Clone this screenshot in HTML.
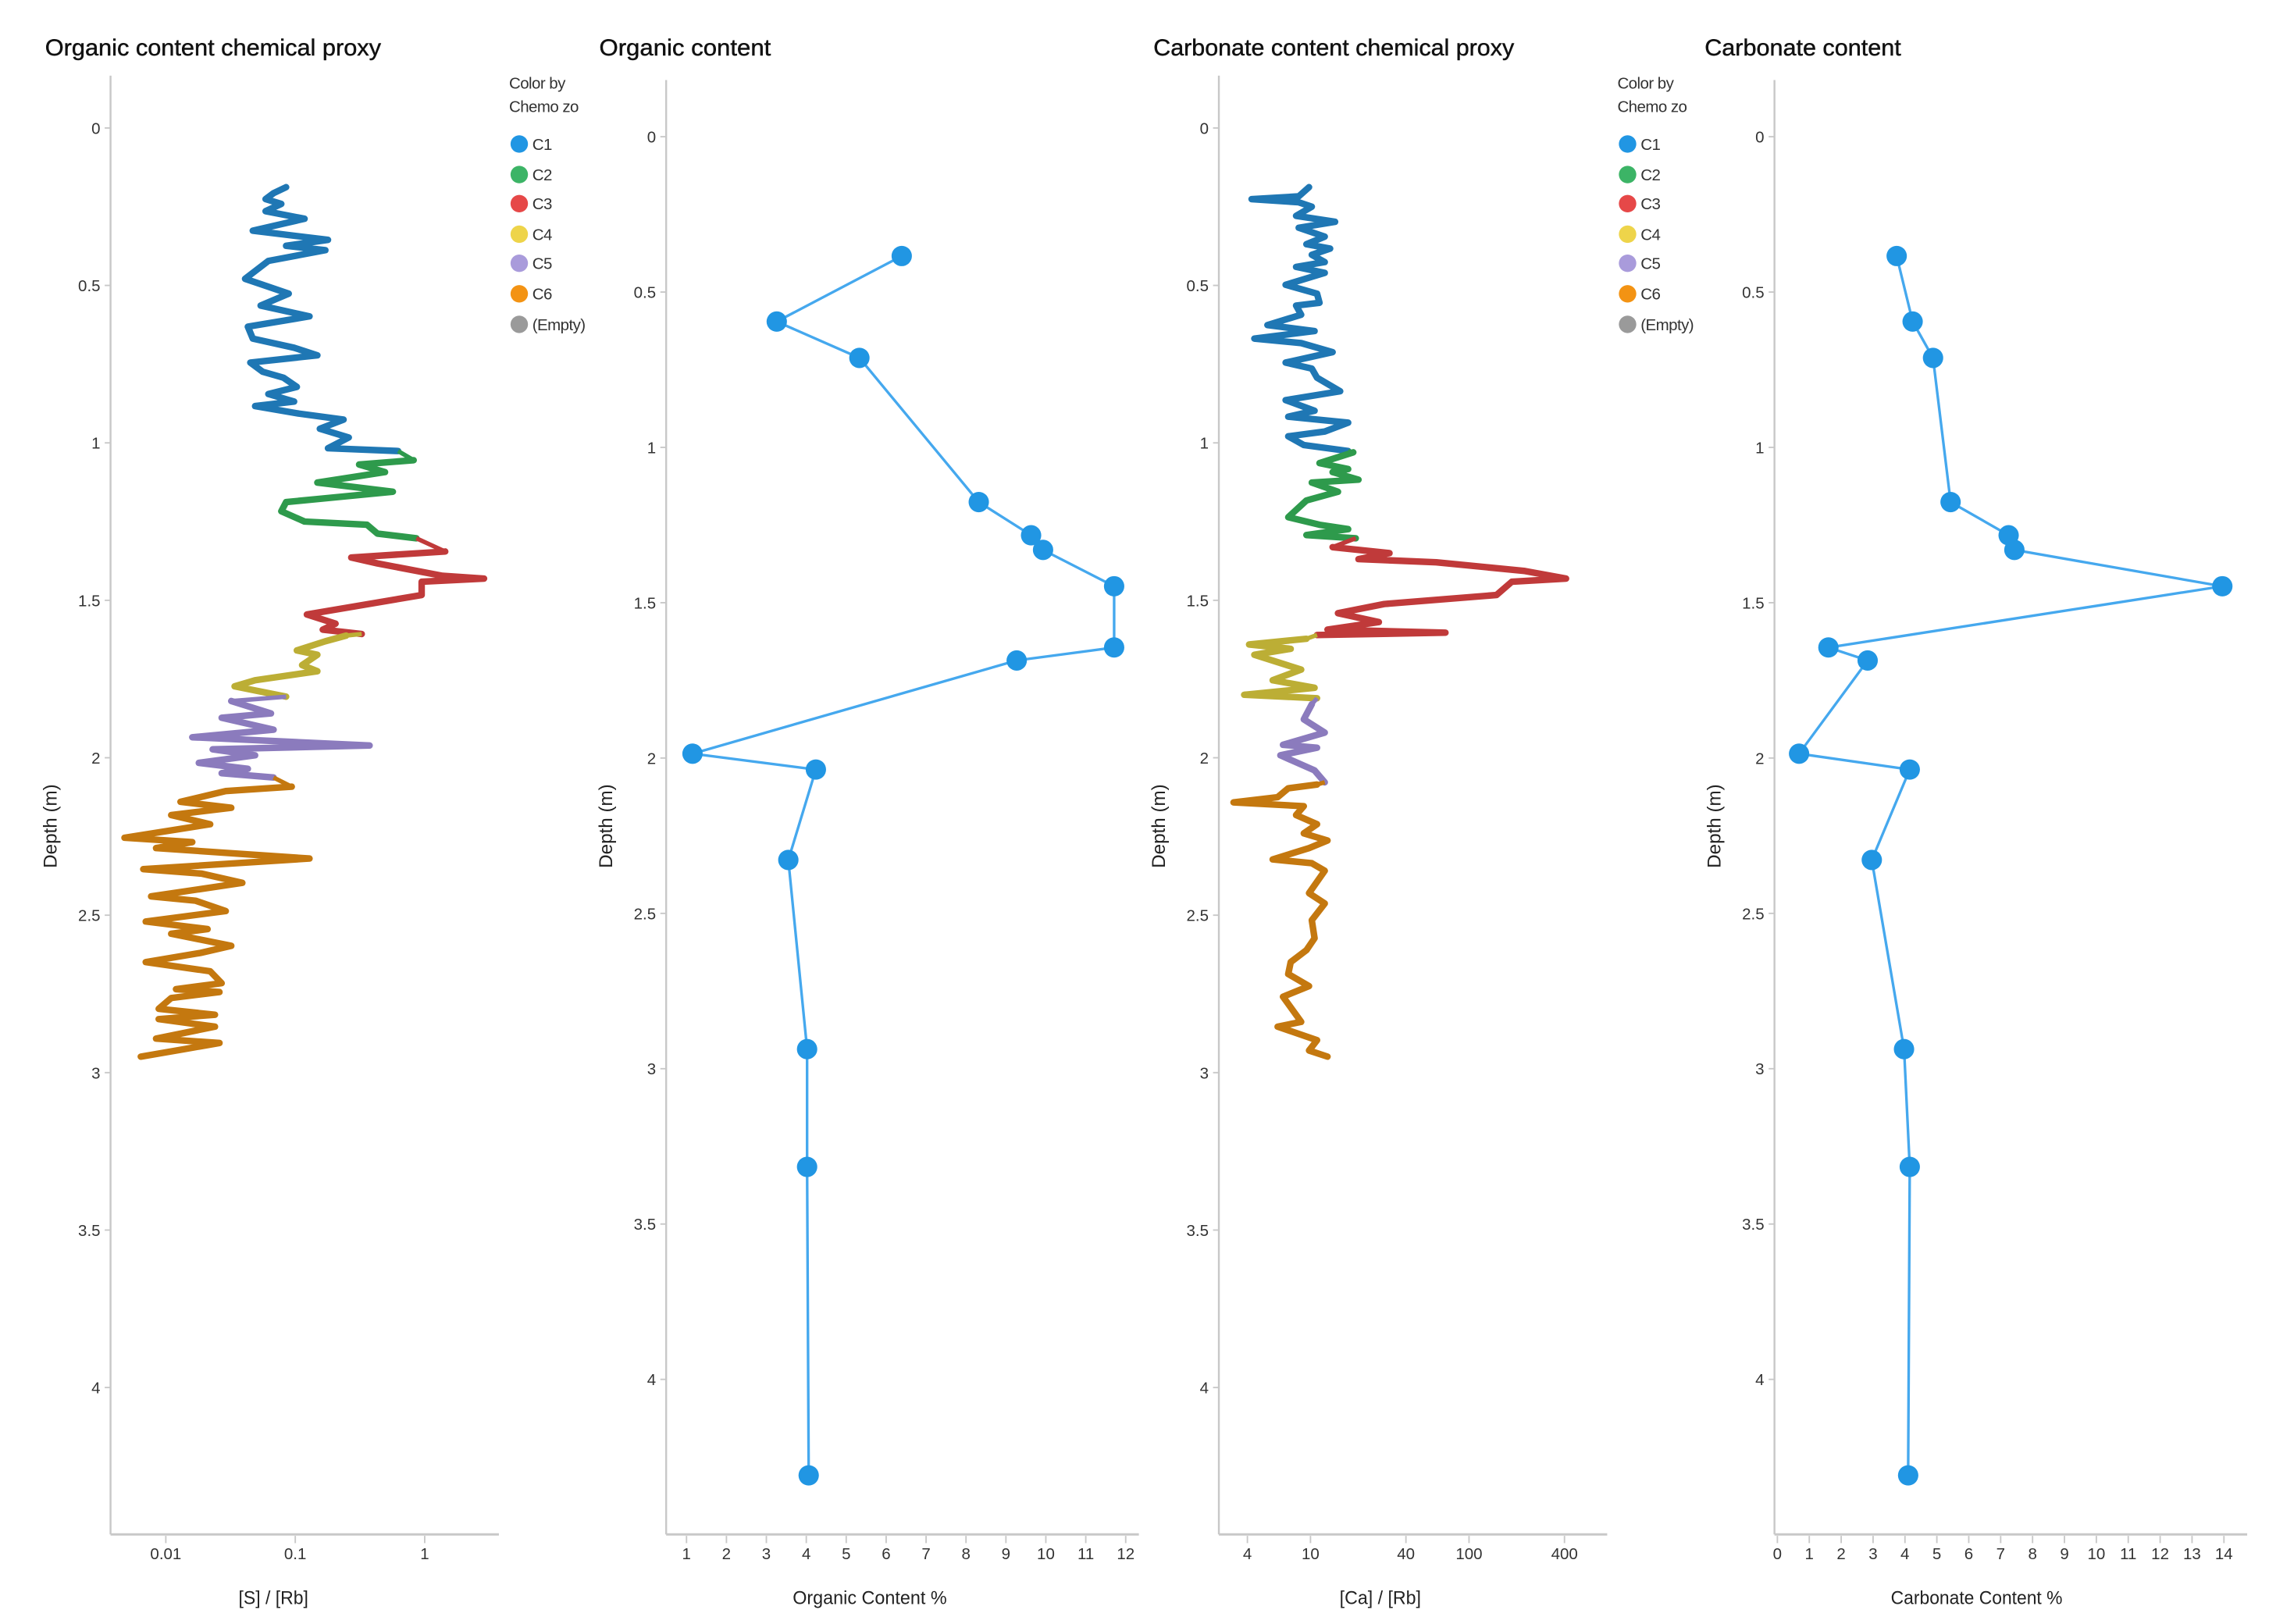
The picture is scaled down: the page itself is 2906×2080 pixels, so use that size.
<!DOCTYPE html>
<html><head><meta charset="utf-8">
<style>
html,body{margin:0;padding:0;background:#fff;}
svg{display:block;font-family:"Liberation Sans",sans-serif;}
</style></head>
<body>
<svg id="chart" width="2906" height="2080" viewBox="0 0 1560 1116.6" preserveAspectRatio="none" xmlns="http://www.w3.org/2000/svg"></svg>
<script>
// ---------- DATA ----------
const zoneNames = ["C1","C2","C3","C4","C5","C6","(Empty)"];
const zoneLineColors = ["#1f77b4","#2e9a4c","#c03a3a","#bcae35","#8b7bbd","#c4780f","#888888"];
const zoneLegendColors = ["#2196e3","#3cb466","#e64848","#eed44a","#a99bdb","#f39313","#9a9a9a"];

// Organic proxy [S]/[Rb]
const sDepth = [0.188,0.207,0.226,0.241,0.264,0.288,0.326,0.355,0.374,0.388,0.422,0.479,0.498,0.526,0.564,0.598,0.631,0.669,0.698,0.722,0.745,0.774,0.793,0.822,0.845,0.869,0.883,0.907,0.926,0.955,0.983,1.017,1.026,
 1.055,1.069,1.093,1.126,1.155,1.188,1.217,1.250,1.260,1.288,1.303,
 1.345,1.364,1.383,1.422,1.431,1.441,1.483,1.545,1.574,1.593,1.607,
 1.612,1.630,1.659,1.673,1.706,1.725,1.754,1.773,1.806,
 1.820,1.859,1.873,1.911,1.935,1.961,1.973,1.992,2.016,2.035,2.049,2.063,
 2.092,2.106,2.140,2.159,2.182,2.211,2.254,2.268,2.287,2.320,2.354,2.368,2.397,2.440,2.454,2.487,2.520,2.544,2.559,2.597,2.620,2.649,2.678,2.716,2.735,2.744,2.763,2.797,2.816,2.830,2.854,2.892,2.906,2.925,2.949];
const sValue = [0.085,0.068,0.059,0.078,0.059,0.118,0.047,0.179,0.085,0.171,0.062,0.041,0.056,0.089,0.054,0.129,0.043,0.047,0.098,0.148,0.045,0.056,0.081,0.103,0.062,0.098,0.049,0.107,0.236,0.155,0.259,0.179,0.623,
 0.822,0.311,0.494,0.148,0.568,0.085,0.078,0.118,0.358,0.431,0.862,
 1.44,0.271,0.431,1.37,2.87,0.946,0.946,0.123,0.205,0.163,0.326,
 0.247,0.171,0.103,0.148,0.113,0.148,0.049,0.034,0.085,
 0.032,0.065,0.027,0.068,0.016,0.375,0.023,0.049,0.018,0.043,0.027,0.068,
 0.094,0.029,0.013,0.032,0.011,0.022,0.0048,0.016,0.0084,0.129,0.0067,0.019,0.039,0.0077,0.017,0.029,0.0070,0.021,0.011,0.032,0.0185,0.0070,0.022,0.027,0.012,0.026,0.011,0.0088,0.024,0.0088,0.024,0.0084,0.026,0.014,0.0064];
const sZone = [0,0,0,0,0,0,0,0,0,0,0,0,0,0,0,0,0,0,0,0,0,0,0,0,0,0,0,0,0,0,0,0,0,
 1,1,1,1,1,1,1,1,1,1,1,
 2,2,2,2,2,2,2,2,2,2,2,
 3,3,3,3,3,3,3,3,3,
 4,4,4,4,4,4,4,4,4,4,4,4,
 5,5,5,5,5,5,5,5,5,5,5,5,5,5,5,5,5,5,5,5,5,5,5,5,5,5,5,5,5,5,5,5,5,5,5];

// Carbonate proxy [Ca]/[Rb]
const caDepth = [0.188,0.217,0.226,0.236,0.250,0.279,0.298,0.317,0.345,0.369,0.383,0.403,0.426,0.441,0.460,0.498,0.526,0.555,0.564,0.593,0.626,0.645,0.669,0.683,0.712,0.745,0.764,0.793,0.836,0.864,0.898,0.917,0.936,0.964,0.979,1.007,1.026,
 1.030,1.064,1.083,1.093,1.117,1.126,1.155,1.183,1.236,1.260,1.274,1.293,1.303,
 1.331,1.350,1.369,1.379,1.407,1.431,1.441,1.483,1.512,1.541,1.569,1.593,1.603,1.610,
 1.622,1.640,1.654,1.673,1.720,1.754,1.778,1.800,1.811,
 1.830,1.878,1.920,1.959,1.968,1.992,2.040,2.078,
 2.085,2.097,2.125,2.142,2.154,2.182,2.211,2.240,2.263,2.287,2.323,2.335,2.359,2.430,2.463,2.516,2.573,2.611,2.649,2.687,2.725,2.759,2.839,2.854,2.897,2.930,2.949];
const caValue = [9.79,8.42,4.25,8.42,10.2,8.11,14.3,8.42,12.3,9.43,13.3,10.2,12.3,8.11,12.3,6.97,11.0,11.4,8.11,8.74,5.35,10.6,4.42,8.74,13.8,6.97,10.2,11.0,15.4,6.97,10.6,7.24,17.3,12.3,7.24,9.08,17.3,
 18.6,11.4,17.3,13.8,20.1,10.2,14.9,9.43,7.24,11.4,17.3,9.43,19.3,
 13.8,31.5,20.1,62.2,225,409,186,149,29.2,14.9,27.0,12.8,71.0,11.0,
 9.43,4.10,7.5,4.42,8.74,5.77,10.6,3.82,11.0,
 10.2,9.08,12.3,6.71,11.0,6.46,10.6,12.3,
 11.0,7.24,6.2,3.27,9.08,8.11,11.0,9.08,12.8,9.79,5.77,10.2,12.3,9.79,12.3,10.2,10.6,9.43,7.5,7.24,9.79,6.71,8.74,6.2,11.0,9.79,12.8];
const caZone = [0,0,0,0,0,0,0,0,0,0,0,0,0,0,0,0,0,0,0,0,0,0,0,0,0,0,0,0,0,0,0,0,0,0,0,0,0,
 1,1,1,1,1,1,1,1,1,1,1,1,1,
 2,2,2,2,2,2,2,2,2,2,2,2,2,2,
 3,3,3,3,3,3,3,3,3,
 4,4,4,4,4,4,4,4,
 5,5,5,5,5,5,5,5,5,5,5,5,5,5,5,5,5,5,5,5,5,5,5,5,5,5,5];

// Lab samples
const sampleDepth = [0.384,0.595,0.712,1.176,1.283,1.330,1.447,1.644,1.686,1.986,2.037,2.328,2.937,3.316,4.309];
const organicPct = [6.39,3.26,5.33,8.32,9.63,9.93,11.71,11.71,9.27,1.15,4.24,3.55,4.02,4.02,4.06];
const carbonatePct = [3.74,4.24,4.88,5.43,7.25,7.43,13.95,1.6,2.83,0.68,4.15,2.96,3.97,4.15,4.10];

const depthTicks = [0,0.5,1,1.5,2,2.5,3,3.5,4];
const depthTickLabels = ["0","0.5","1","1.5","2","2.5","3","3.5","4"];
const sTicks = [0.01,0.1,1];
const sTickLabels = ["0.01","0.1","1"];
const caTicks = [4,10,40,100,400];
const caTickLabels = ["4","10","40","100","400"];
const orgTicks = [1,2,3,4,5,6,7,8,9,10,11,12];
const carbTicks = [0,1,2,3,4,5,6,7,8,9,10,11,12,13,14];

// ---------- DRAW ----------
const NS = "http://www.w3.org/2000/svg";
const svg = document.getElementById("chart");
function mk(tag, attrs, parent){
  const e = document.createElementNS(NS, tag);
  for (const k in attrs) e.setAttribute(k, attrs[k]);
  (parent||svg).appendChild(e);
  return e;
}
function txt(str, x, y, size, anchor, parent, fill){
  const t = mk("text", {x:x, y:y, "font-size":size, "text-anchor":anchor||"start", fill:fill||"#222"}, parent);
  t.textContent = str;
  return t;
}

function panel(cfg){
  const g = mk("g", {});
  
  
  const yS = d => cfg.y0 + cfg.ppm * d;
  const tt = txt(cfg.title, cfg.titleX, 38, 16, "start", g, "#111");
  tt.setAttribute("textLength", cfg.titleW);
  tt.setAttribute("lengthAdjust","spacingAndGlyphs");
  tt.setAttribute("stroke","#111");
  tt.setAttribute("stroke-width","0.25");
  
  
  const ay = mk("line", {x1:cfg.ax, y1:cfg.axTop, x2:cfg.ax, y2:1055, stroke:"#c8c8c8", "stroke-width":1.3}, g);
  
  
  const ax = mk("line", {x1:cfg.ax, y1:1055, x2:cfg.axRight, y2:1055, stroke:"#c8c8c8", "stroke-width":1.6}, g);
  
  
  depthTicks.forEach((d,i)=>{
    const y = yS(d);
    mk("line",{x1:cfg.ax-4,y1:y,x2:cfg.ax,y2:y,stroke:"#c8c8c8","stroke-width":1},g);
    const l = txt(depthTickLabels[i], cfg.ax-7, y+4, 11, "end", g, "#333");
    
    
  });
  const yt = txt("Depth (m)", 0, 0, 13, "middle", g, "#222");
  yt.setAttribute("transform", "translate("+(cfg.ax-37)+",568) rotate(-90)");
  
  
  cfg.xTicks.forEach((v,i)=>{
    const x = cfg.xS(v);
    mk("line",{x1:x,y1:1056,x2:x,y2:1061,stroke:"#c8c8c8","stroke-width":1},g);
    const l = txt(cfg.xLabels[i], x, 1072, 11, "middle", g, "#333");
    
    
  });
  const xt = txt(cfg.xTitle, cfg.xTitleX, 1103, 13, "middle", g, "#222");
  xt.setAttribute("textLength", cfg.xTitleW);
  xt.setAttribute("lengthAdjust","spacingAndGlyphs");
  
  
  return {g, yS};
}

function legend(x0){
  const g = mk("g", {});
  
  
  txt("Color by", x0, 61, 11, "start", g, "#333").setAttribute("letter-spacing","-0.3");
  txt("Chemo zo", x0, 77, 11, "start", g, "#333").setAttribute("letter-spacing","-0.3");
  const ys = [99,120,140,161,181,202,223];
  zoneNames.forEach((n,i)=>{
    const e = mk("g", {}, g);
    
    
    mk("circle",{cx:x0+7, cy:ys[i], r:6, fill:zoneLegendColors[i]}, e);
    txt(n, x0+16, ys[i]+4, 11, "start", e, "#333").setAttribute("letter-spacing","-0.3");
  });
}

function proxySeries(g, depth, value, zone, xS, yS, name){
  let start = 0;
  for (let i=1;i<=depth.length;i++){
    if (i===depth.length || zone[i]!==zone[start]){
      const pts = [];
      for (let j=start;j<i;j++) pts.push(xS(value[j]).toFixed(1)+","+yS(depth[j]).toFixed(1));
      const p = mk("polyline",{points:pts.join(" "), fill:"none", stroke:zoneLineColors[zone[start]], "stroke-width":4.5, "stroke-linejoin":"round", "stroke-linecap":"round"}, g);
      
      
      if (i < depth.length){
        const c = mk("line",{x1:xS(value[i-1]),y1:yS(depth[i-1]),x2:xS(value[i]),y2:yS(depth[i]),stroke:zoneLineColors[zone[i]],"stroke-width":3}, g);
        
        
      }
      start = i;
    }
  }
}

function sampleSeries(g, depth, value, xS, yS, name){
  const pts = depth.map((d,i)=>xS(value[i]).toFixed(1)+","+yS(d).toFixed(1)).join(" ");
  const l = mk("polyline",{points:pts, fill:"none", stroke:"#45a8ee", "stroke-width":1.8}, g);
  
  
  depth.forEach((d,i)=>{
    const c = mk("circle",{cx:xS(value[i]), cy:yS(d), r:7, fill:"#2196e3"}, g);
    
    
  });
}

const sX = v => 203 + 89*(Math.log10(v)+1);
const p1 = panel({name:"organic-proxy-panel", title:"Organic content chemical proxy", titleX:31, titleW:231, ax:76, axTop:52, axRight:343, y0:88, ppm:216.5,
  xS:sX, xTicks:sTicks, xLabels:sTickLabels, xTitle:"[S] / [Rb]", xTitleX:188, xTitleW:48});
proxySeries(p1.g, sDepth, sValue, sZone, sX, p1.yS, "s-rb-series");
legend(350);

const oX = v => 472 + 27.45*(v-1);
const p2 = panel({name:"organic-content-panel", title:"Organic content", titleX:412, titleW:118, ax:458, axTop:55, axRight:783, y0:94, ppm:213.6,
  xS:oX, xTicks:orgTicks, xLabels:orgTicks.map(String), xTitle:"Organic Content %", xTitleX:598, xTitleW:106});
sampleSeries(p2.g, sampleDepth, organicPct, oX, p2.yS, "organic-content");

const cX = v => 901 + 109*(Math.log10(v)-1);
const p3 = panel({name:"carbonate-proxy-panel", title:"Carbonate content chemical proxy", titleX:793, titleW:248, ax:838, axTop:52, axRight:1105, y0:88, ppm:216.5,
  xS:cX, xTicks:caTicks, xLabels:caTickLabels, xTitle:"[Ca] / [Rb]", xTitleX:949, xTitleW:56});
proxySeries(p3.g, caDepth, caValue, caZone, cX, p3.yS, "ca-rb-series");
legend(1112);

const kX = v => 1222 + 21.93*v;
const p4 = panel({name:"carbonate-content-panel", title:"Carbonate content", titleX:1172, titleW:135, ax:1220, axTop:55, axRight:1545, y0:94, ppm:213.6,
  xS:kX, xTicks:carbTicks, xLabels:carbTicks.map(String), xTitle:"Carbonate Content %", xTitleX:1359, xTitleW:118});
sampleSeries(p4.g, sampleDepth, carbonatePct, kX, p4.yS, "carbonate-content");
</script>
</body></html>
